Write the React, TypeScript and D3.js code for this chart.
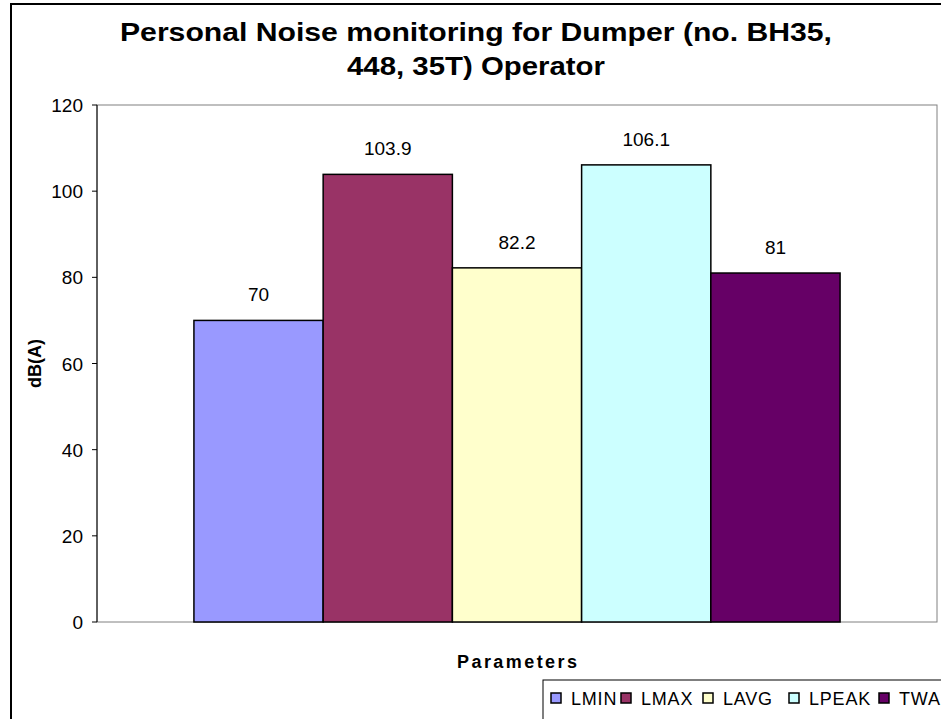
import React from "react";
import * as d3 from "d3";

const titleLines = ["Personal Noise monitoring for Dumper (no. BH35,", "448, 35T) Operator"];
const seriesNames = ["LMIN", "LMAX", "LAVG", "LPEAK", "TWA"];
const seriesValues = [70, 103.9, 82.2, 106.1, 81];
const seriesColors = ["#9999FF", "#993366", "#FFFFCC", "#CCFFFF", "#660066"];
const yTicks = [0, 20, 40, 60, 80, 100, 120];
const categories = ["Parameters"];
const legendX = [551, 621, 703, 789, 879];
const titleWidths = [712, 258];

const FONT = "Arial, 'Liberation Sans', sans-serif";

export default function App() {
  const W = 941, H = 719;
  const left = 97, right = 937, top = 105, bottom = 622;
  const y = d3.scaleLinear().domain([0, 120]).range([bottom, top]);
  const x0 = d3.scaleBand().domain(categories).range([left, right]).paddingInner(0).paddingOuter(0.15);
  const x1 = d3.scaleBand().domain(seriesNames).range([0, x0.bandwidth()]).padding(0);
  const gx = x0(categories[0]) as number;

  return (
    <svg width={W} height={H} style={{ position: "fixed", left: 0, top: 0, background: "#fff" }} fontFamily={FONT}>
      <rect x={0} y={0} width={W} height={H} fill="#fff" />
      <rect x={11} y={4} width={960} height={760} fill="#fff" stroke="#000" strokeWidth={2} />
      {titleLines.map((t, i) => (
        <text key={i} x={476} y={41 + i * 34} textAnchor="middle" fontSize={26} fontWeight="bold" fill="#000"
          textLength={titleWidths[i]} lengthAdjust="spacingAndGlyphs">{t}</text>
      ))}
      <rect x={left} y={top} width={right - left} height={bottom - top} fill="#fff" stroke="#808080" strokeWidth={1} />
      {seriesNames.map((s, i) => {
        const v = seriesValues[i];
        const bx = gx + (x1(s) as number);
        return (
          <g key={s}>
            <rect x={bx} y={y(v)} width={x1.bandwidth()} height={bottom - y(v)} fill={seriesColors[i]} stroke="#000" strokeWidth={1.5} />
            <text x={bx + x1.bandwidth() / 2} y={y(v) - 19} textAnchor="middle" fontSize={19} fill="#000">{String(v)}</text>
          </g>
        );
      })}
      <line x1={left} x2={left} y1={top} y2={bottom} stroke="#000" strokeWidth={1} />
      {yTicks.map((t) => (
        <g key={t}>
          <line x1={left - 5} x2={left} y1={y(t)} y2={y(t)} stroke="#000" />
          <text x={83} y={y(t) + 7} textAnchor="end" fontSize={19} fill="#000">{t}</text>
        </g>
      ))}
      <text transform={`translate(41, ${(top + bottom) / 2}) rotate(-90)`} textAnchor="middle" fontSize={18} fontWeight="bold" fill="#000">dB(A)</text>
      <text x={517} y={668} textAnchor="middle" fontSize={18} fontWeight="bold" fill="#000"
        textLength={120} lengthAdjust="spacing">{categories[0]}</text>
      <rect x={543} y={680} width={420} height={60} fill="#fff" stroke="#000" strokeWidth={1} />
      {seriesNames.map((s, i) => (
        <g key={s}>
          <rect x={legendX[i]} y={693} width={10} height={10} fill={seriesColors[i]} stroke="#000" strokeWidth={1.5} />
          <text x={legendX[i] + 20} y={705} fontSize={18} letterSpacing={0.8} fill="#000">{s}</text>
        </g>
      ))}
    </svg>
  );
}
